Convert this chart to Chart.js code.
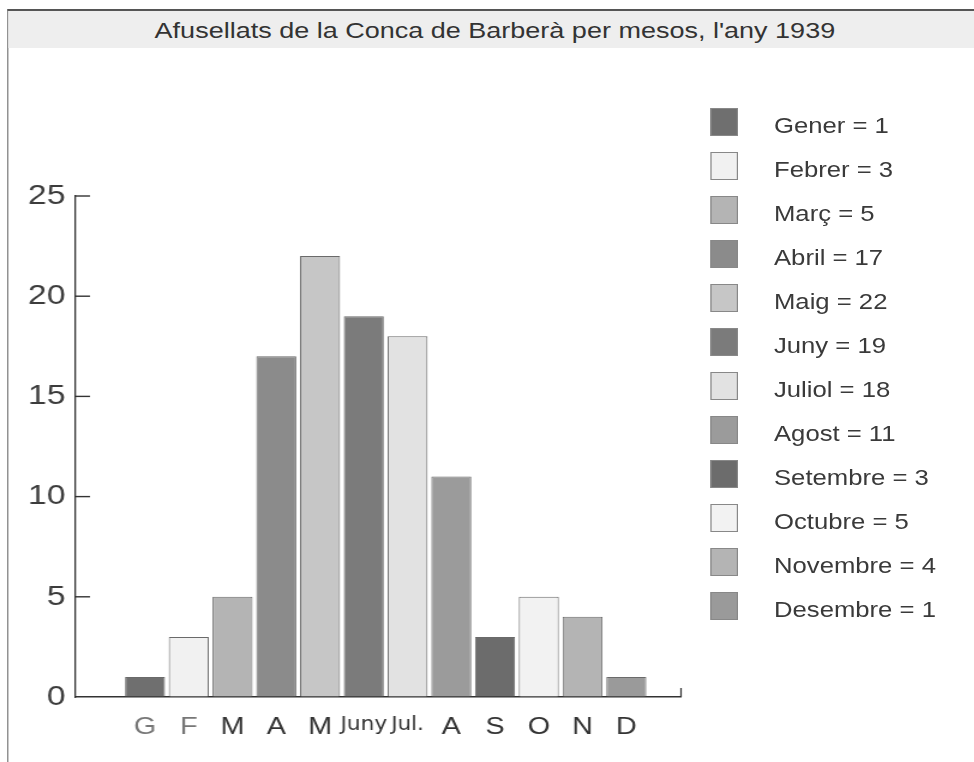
<!DOCTYPE html>
<html lang="ca">
<head>
  <meta charset="UTF-8" />
  <title>Afusellats de la Conca de Barberà per mesos, l'any 1939</title>
  <script src="https://cdn.jsdelivr.net/npm/chart.js"></script>
  <style>
    html, body { margin: 0; padding: 0; background: #fff; overflow: hidden; }
    /* the scan is wider than tall, so the whole page is stretched sideways */
    #page { position: absolute; left: 0; top: 0; width: 811.67px; height: 762px; transform: scaleX(1.2); transform-origin: 0 0; font-family: 'Liberation Sans', Arial, sans-serif; }
    #frame { position: absolute; left: 6.2px; top: 9px; right: 0; bottom: 0; border-left: 1.3px solid #777; border-top: 2px solid #555; }
    #band { position: absolute; left: 0; right: 0; top: 0; height: 37px; background: #eeeeee; color: #333; font-size: 22.5px; line-height: 39px; text-align: center; padding-left: 6px; }
    #wrap { position: absolute; left: 0; top: 48px; width: 580px; height: 714px; }
    #legend { position: absolute; left: 591.7px; top: 108px; }
    .item { height: 44px; display: flex; align-items: flex-start; }
    .sw { width: 21.5px; height: 26px; border: 1px solid #888; }
    .lbl { margin-left: 29.8px; margin-top: 5px; font-size: 21.4px; line-height: 27px; color: #3a3a3a; white-space: nowrap; }
  </style>
</head>
<body>
  <div id="page">
    <div id="frame"><div id="band">Afusellats de la Conca de Barberà per mesos, l'any 1939</div></div>
    <div id="wrap"><canvas id="chart"></canvas></div>
    <div id="legend"></div>
  </div>

  <script>
    const monthLetters = ['G', 'F', 'M', 'A', 'M', 'Juny', 'Jul.', 'A', 'S', 'O', 'N', 'D'];
    const monthNames = ['Gener', 'Febrer', 'Març', 'Abril', 'Maig', 'Juny', 'Juliol', 'Agost', 'Setembre', 'Octubre', 'Novembre', 'Desembre'];
    const executions = [1, 3, 5, 17, 22, 19, 18, 11, 3, 5, 4, 1];
    const barColors = ['#6f6f6f', '#f1f1f1', '#b4b4b4', '#8b8b8b', '#c6c6c6', '#7b7b7b',
                       '#e2e2e2', '#9b9b9b', '#6c6c6c', '#f2f2f2', '#b4b4b4', '#9a9a9a'];
    const yTicks = [0, 5, 10, 15, 20, 25];

    // legend
    document.getElementById('legend').innerHTML = monthNames.map((name, i) => `
      <div class="item"><div class="sw" style="background:${barColors[i]}"></div><div class="lbl">${name} = ${executions[i]}</div></div>
    `).join('');

    // short ticks that point into the plot + end cap of the x axis
    const axisMarks = {
      id: 'axisMarks',
      afterDraw(chart) {
        const { ctx, chartArea, scales } = chart;
        ctx.save();
        ctx.strokeStyle = '#333';
        ctx.lineWidth = 1.4;
        yTicks.forEach(v => {
          if (v === 0) return;
          const y = scales.y.getPixelForValue(v);
          ctx.beginPath();
          ctx.moveTo(chartArea.left, y);
          ctx.lineTo(chartArea.left + 12.5, y);
          ctx.stroke();
        });
        ctx.lineWidth = 1.2;
        ctx.beginPath();
        ctx.moveTo(chartArea.right, chartArea.bottom);
        ctx.lineTo(chartArea.right, chartArea.bottom - 9);
        ctx.stroke();
        ctx.restore();
      }
    };

    new Chart(document.getElementById('chart'), {
      type: 'bar',
      data: {
        datasets: [{
          data: executions.map((v, i) => ({ x: i, y: v })),
          backgroundColor: barColors,
          borderColor: '#6a6a6a',
          borderWidth: 1,
          barPercentage: 0.914,
          categoryPercentage: 1
        }]
      },
      options: {
        responsive: true,
        maintainAspectRatio: false,
        animation: false,
        layout: { padding: { left: 0, top: 148, right: 12.5, bottom: 0 } },
        plugins: { legend: { display: false }, title: { display: false }, tooltip: { enabled: false } },
        scales: {
          x: {
            type: 'linear',
            offset: false,
            min: -1.6,
            max: 12.25,
            afterBuildTicks: axis => { axis.ticks = monthLetters.map((_, i) => ({ value: i })); },
            afterFit: axis => { axis.height = 65; },
            grid: { display: true, offset: false, drawOnChartArea: false, drawTicks: false },
            border: { display: true, color: '#333', width: 1.4 },
            ticks: {
              autoSkip: false,
              maxRotation: 0,
              padding: 16,
              callback: (value) => monthLetters[value],
              color: ctx => ctx.index < 2 ? '#777' : '#333',
              font: ctx => (ctx.index === 5 || ctx.index === 6)
                ? { family: "'Liberation Sans Narrow', 'DejaVu Sans Condensed', 'Liberation Sans'", size: 20 }
                : { family: "'Liberation Sans', Arial", size: 24 }
            }
          },
          y: {
            min: 0,
            max: 25,
            afterBuildTicks: axis => { axis.ticks = yTicks.map(v => ({ value: v })); },
            afterFit: axis => { axis.width = 62.5; },
            grid: { display: true, drawOnChartArea: false, drawTicks: false },
            border: { display: true, color: '#333', width: 1.3 },
            ticks: {
              padding: 8,
              color: '#3c3c3c',
              font: { family: "'Liberation Sans', Arial", size: 28 }
            }
          }
        }
      },
      plugins: [axisMarks]
    });
  </script>
</body>
</html>
